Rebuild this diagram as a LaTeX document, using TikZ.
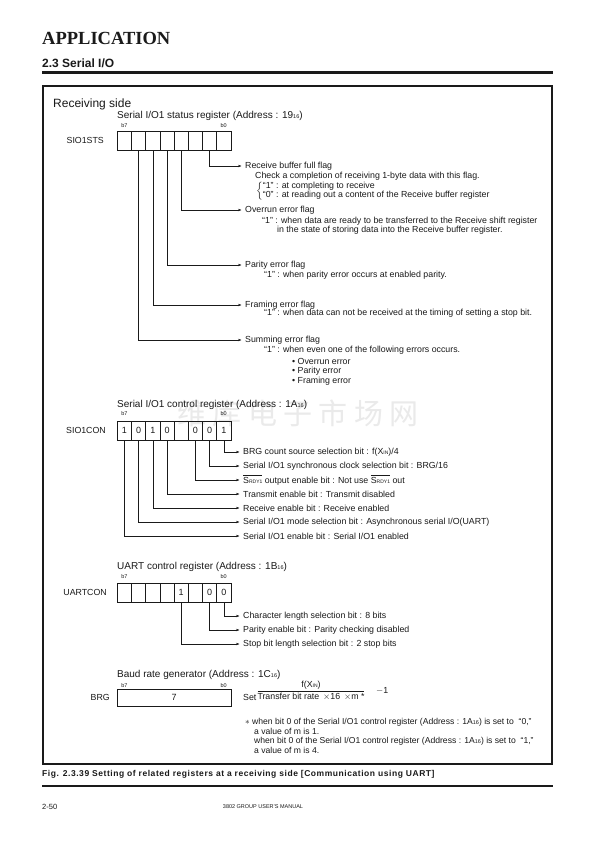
\documentclass[tikz,border=0pt]{standalone}
\usepackage{fontspec}
\setmainfont{Liberation Sans}
\newfontfamily\headfont{Liberation Serif}
\newfontfamily\cjkfont[LetterSpace=22]{Noto Sans CJK SC}
\usetikzlibrary{arrows.meta}
\definecolor{ink}{HTML}{1A1A1A}
\definecolor{wmark}{HTML}{EAEAEA}
\newcommand{\sixteen}{{\fontsize{5.5}{6}\selectfont 16}}
\newcommand{\xin}{X{\fontsize{5}{6}\selectfont IN}}
\newcommand{\srdy}{$\overline{\mbox{S{\fontsize{5}{6}\selectfont RDY1}}}$}

\begin{document}
\begin{tikzpicture}[x=1pt, y=-1pt, color=ink,
  desc/.style={anchor=west, inner sep=0pt, font=\fontsize{8.8}{10}\selectfont},
  note/.style={anchor=west, inner sep=0pt, font=\fontsize{8.6}{9}\selectfont},
  cell/.style={draw=ink, line width=0.6pt, minimum width=14.2pt, minimum height=19pt,
    inner sep=0pt, font=\fontsize{9}{9}\selectfont},
  bitno/.style={inner sep=0pt, font=\fontsize{5.5}{6}\selectfont},
  regname/.style={anchor=east, inner sep=0pt, font=\fontsize{8.8}{9}\selectfont},
  regtitle/.style={anchor=west, inner sep=0pt, font=\fontsize{10}{11}\selectfont},
  lead/.style={draw=ink, line width=0.5pt, -{Stealth[length=3.5pt, width=2.4pt]}, shorten >=3.5pt}]
  \def\regX{117.3}
  \def\cw{14.2}
  \fill[white] (0,0) rectangle (595,842);
  \useasboundingbox (0,0) rectangle (595,842);

  % page head
  \node[anchor=base west, inner sep=0pt, font=\headfont\bfseries\fontsize{18.5}{18.5}\selectfont] (head) at (42,45) {APPLICATION};
  \node[anchor=base west, inner sep=0pt, font=\bfseries\fontsize{12}{12}\selectfont] (sect) at (42,67.5) {2.3 Serial I/O};
  \draw[line width=3pt] (42,73) -- (553,73);
  \draw[line width=1.4pt] (43,86) rectangle (552,764);
  \node[font=\cjkfont\fontsize{29}{29}\selectfont, text=wmark, inner sep=0pt] (wm) at (298,413) {维库电子市场网};
  \node[anchor=base west, inner sep=0pt, font=\fontsize{12}{12}\selectfont] (side) at (53,108) {Receiving side};

  % SIO1STS
  \node[regtitle] (sts-title) at (117,116) {Serial I/O1 status register (Address : 19\sixteen)};
  \node[bitno] at (124.4,126) {b7};
  \node[bitno] at (223.7,126) {b0};
  \foreach \k in {0,...,7} {
    \pgfmathtruncatemacro{\b}{7-\k}
    \node[cell] (sts-b\b) at ({\regX+\cw*\k+\cw/2},140.5) {};
  }
  \node[regname] (sts) at (104,140.5) {SIO1STS};
  \node[desc] (rbf) at (245,166) {Receive buffer full flag};
  \node[desc] (rbf-a) at (255,176) {Check a completion of receiving 1-byte data with this flag.};
  \node[desc] (rbf-b) at (256,191) {\renewcommand{\arraystretch}{0.82}$\left\{\mbox{\begin{tabular}{@{}l@{}}“1” : at completing to receive\\“0” : at reading out a content of the Receive buffer register\end{tabular}}\right.$};
  \node[desc] (ovr) at (245,210) {Overrun error flag};
  \node[desc] (ovr-a) at (262,221.5) {“1” : when data are ready to be transferred to the Receive shift register};
  \node[desc] (ovr-b) at (277,230) {in the state of storing data into the Receive buffer register.};
  \node[desc] (par) at (245,265) {Parity error flag};
  \node[desc] (par-a) at (264,275) {“1” : when parity error occurs at enabled parity.};
  \node[desc] (frm) at (245,305) {Framing error flag};
  \node[desc] (frm-a) at (264,313) {“1” : when data can not be received at the timing of setting a stop bit.};
  \node[desc] (sum) at (245,340) {Summing error flag};
  \node[desc] (sum-a) at (264,350) {“1” : when even one of the following errors occurs.};
  \node[desc] (sum-b) at (292,361) {• Overrun error};
  \node[desc] (sum-c) at (292,371) {• Parity error};
  \node[desc] (sum-d) at (292,381) {• Framing error};
  \draw[lead] (sts-b1.south) |- (rbf.west);
  \draw[lead] (sts-b3.south) |- (ovr.west);
  \draw[lead] (sts-b4.south) |- (par.west);
  \draw[lead] (sts-b5.south) |- (frm.west);
  \draw[lead] (sts-b6.south) |- (sum.west);

  % SIO1CON
  \node[regtitle] (con-title) at (117,405) {Serial I/O1 control register (Address : 1A\sixteen)};
  \node[bitno] at (124.4,414) {b7};
  \node[bitno] at (223.7,414) {b0};
  \foreach \v [count=\k from 0] in {1,0,1,0,{},0,0,1} {
    \pgfmathtruncatemacro{\b}{7-\k}
    \node[cell] (con-b\b) at ({\regX+\cw*\k+\cw/2},430.5) {\v};
  }
  \node[regname] (con) at (106,430.5) {SIO1CON};
  \node[desc] (con-brg) at (243,452) {BRG count source selection bit : f(\xin)/4};
  \node[desc] (con-clk) at (243,466) {Serial I/O1 synchronous clock selection bit : BRG/16};
  \node[desc] (con-rdy) at (243,480) {\srdy{} output enable bit : Not use \srdy{} out};
  \node[desc] (con-tx) at (243,494) {Transmit enable bit : Transmit disabled};
  \node[desc] (con-rx) at (243,508) {Receive enable bit : Receive enabled};
  \node[desc] (con-mode) at (243,522) {Serial I/O1 mode selection bit : Asynchronous serial I/O(UART)};
  \node[desc] (con-en) at (243,536) {Serial I/O1 enable bit : Serial I/O1 enabled};
  \draw[lead] (con-b0.south) |- (con-brg.west);
  \draw[lead] (con-b1.south) |- (con-clk.west);
  \draw[lead] (con-b2.south) |- (con-rdy.west);
  \draw[lead] (con-b4.south) |- (con-tx.west);
  \draw[lead] (con-b5.south) |- (con-rx.west);
  \draw[lead] (con-b6.south) |- (con-mode.west);
  \draw[lead] (con-b7.south) |- (con-en.west);

  % UARTCON
  \node[regtitle] (uart-title) at (117,567) {UART control register (Address : 1B\sixteen)};
  \node[bitno] at (124.4,577) {b7};
  \node[bitno] at (223.7,577) {b0};
  \foreach \v [count=\k from 0] in {{},{},{},{},1,{},0,0} {
    \pgfmathtruncatemacro{\b}{7-\k}
    \node[cell] (uart-b\b) at ({\regX+\cw*\k+\cw/2},592.5) {\v};
  }
  \node[regname] (uart) at (107,592.5) {UARTCON};
  \node[desc] (uart-len) at (243,616) {Character length selection bit : 8 bits};
  \node[desc] (uart-par) at (243,630) {Parity enable bit : Parity checking disabled};
  \node[desc] (uart-stop) at (243,644) {Stop bit length selection bit : 2 stop bits};
  \draw[lead] (uart-b0.south) |- (uart-len.west);
  \draw[lead] (uart-b1.south) |- (uart-par.west);
  \draw[lead] (uart-b3.south) |- (uart-stop.west);

  % BRG
  \node[regtitle] (brg-title) at (117,675) {Baud rate generator (Address : 1C\sixteen)};
  \node[bitno] at (124.4,686) {b7};
  \node[bitno] at (223.7,686) {b0};
  \node[draw=ink, line width=0.6pt, minimum width=113.6pt, minimum height=17pt, inner sep=0pt,
    font=\fontsize{9}{9}\selectfont] (brg) at (174,697.5) {7};
  \node[regname] (brg-name) at (110,697.5) {BRG};
  \node[desc] (brg-set) at (243,697) {Set};
  \node[inner sep=0pt, font=\fontsize{8.8}{10}\selectfont] (brg-frac) at (311,691)
    {$\displaystyle\frac{\mbox{f(\xin)}}{\mbox{Transfer bit rate\, $\times$16 \,$\times$m *}}$};
  \node[desc] (brg-one) at (376,691) {$-$1};
  \node[note] (fn-star) at (245,722) {$\ast$};
  \node[note] (fn-a) at (252,722) {when bit 0 of the Serial I/O1 control register (Address : 1A\sixteen) is set to\ \ “0,”};
  \node[note] (fn-b) at (254,731) {a value of m is 1.};
  \node[note] (fn-c) at (254,741) {when bit 0 of the Serial I/O1 control register (Address : 1A\sixteen) is set to\ \ “1,”};
  \node[note] (fn-d) at (254,750) {a value of m is 4.};

  % caption and foot
  \node[anchor=base west, inner sep=0pt, font=\bfseries\fontsize{8.5}{8.5}\selectfont\addfontfeature{LetterSpace=6.5}] (cap) at (42,776)
    {Fig. 2.3.39 Setting of related registers at a receiving side [Communication using UART]};
  \draw[line width=2pt] (42,786) -- (553,786);
  \node[anchor=base west, inner sep=0pt, font=\fontsize{7.5}{8}\selectfont] (pg) at (42,809) {2-50};
  \node[anchor=base, inner sep=0pt, font=\fontsize{5.5}{6}\selectfont] (man) at (263,808) {3802 GROUP USER'S MANUAL};
\end{tikzpicture}
\end{document}
